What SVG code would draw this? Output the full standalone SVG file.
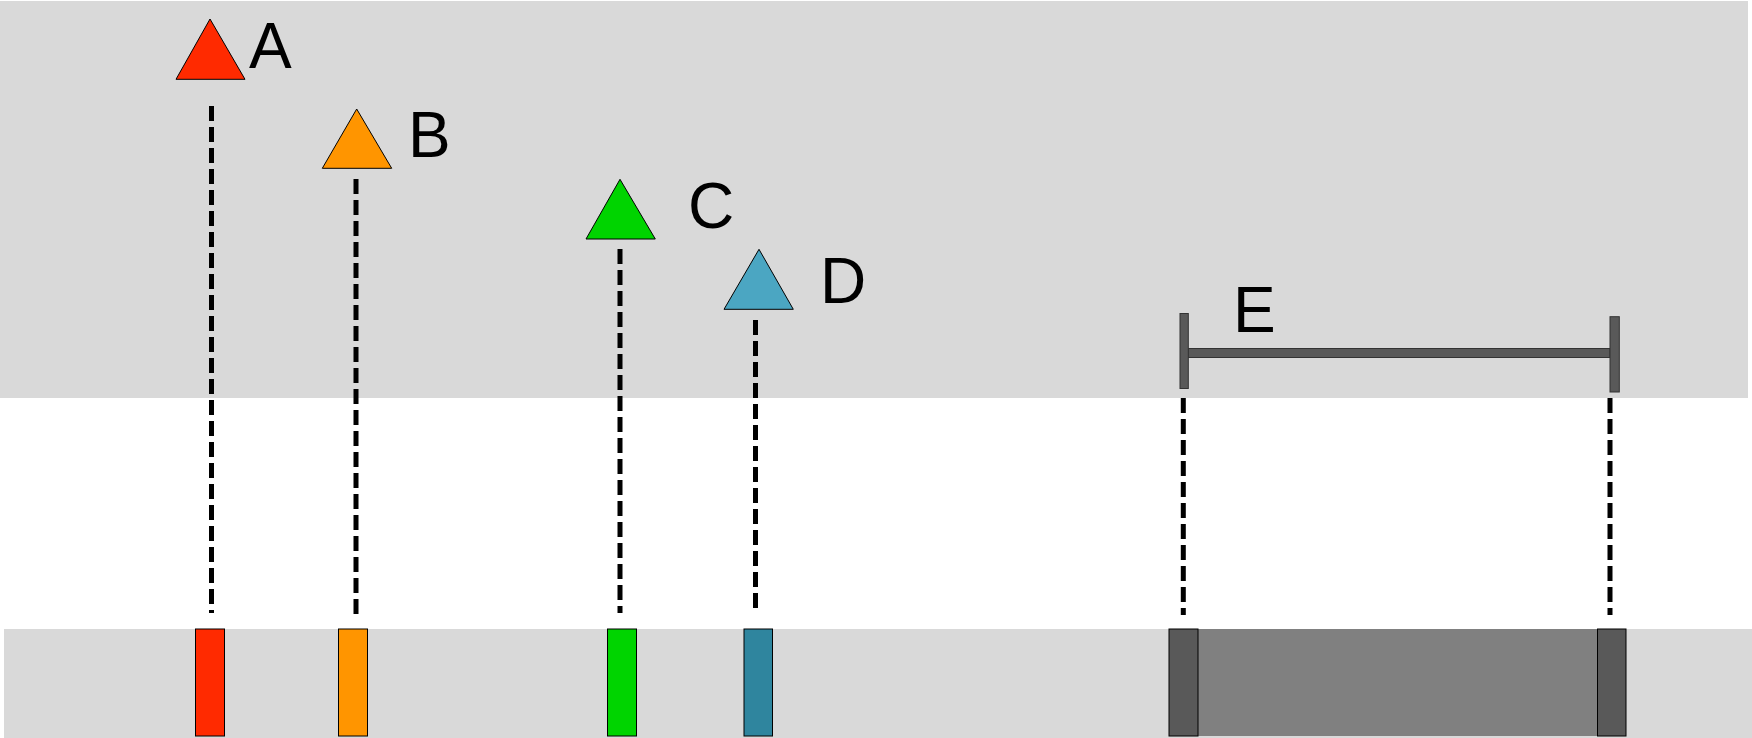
<svg xmlns="http://www.w3.org/2000/svg" width="1752" height="738" viewBox="0 0 1752 738">
  <style>
    .bg { fill: #d9d9d9; }
    .tri { stroke: #000; stroke-width: 1; stroke-linejoin: miter; }
    .mark { stroke: #000; stroke-width: 1; }
    .bar { fill: #595959; stroke: #333; stroke-width: 1; }
    .lbl { font-family: "Liberation Sans", Arial, sans-serif; font-size: 64px; fill: #000; }
    .dash { stroke: #000; stroke-width: 5; stroke-dasharray: 15 6; fill: none; }
  </style>

  <!-- upper panel and lower track -->
  <rect class="bg" x="0" y="1" width="1748" height="397"/>
  <rect class="bg" x="4" y="629" width="1748" height="109"/>

  <!-- connectors -->
  <g id="connectors">
    <line class="dash" x1="211.5" y1="106" x2="211.5" y2="613"/>
    <line class="dash" x1="356" y1="179" x2="356" y2="616"/>
    <line class="dash" x1="620" y1="249" x2="620" y2="613"/>
    <line class="dash" x1="755.5" y1="320" x2="755.5" y2="614"/>
    <line class="dash" x1="1183.3" y1="398" x2="1183.3" y2="615"/>
    <line class="dash" x1="1610" y1="398" x2="1610" y2="615"/>
  </g>

  <g id="node-a">
    <polygon class="tri" fill="#ff2a00" points="210,19 176,79.3 245,79.3"/>
    <text class="lbl" x="249" y="68">A</text>
    <rect class="mark" fill="#ff2a00" x="195.5" y="629" width="29" height="107"/>
  </g>

  <g id="node-b">
    <polygon class="tri" fill="#ff9500" points="356.7,109 322.3,168.3 391.7,168.3"/>
    <text class="lbl" x="408" y="157">B</text>
    <rect class="mark" fill="#ff9500" x="338.5" y="629" width="29" height="107"/>
  </g>

  <g id="node-c">
    <polygon class="tri" fill="#00d400" points="620,179.3 586,239 655.3,239"/>
    <text class="lbl" x="688" y="228">C</text>
    <rect class="mark" fill="#00d400" x="607.5" y="629" width="29" height="107"/>
  </g>

  <g id="node-d">
    <polygon class="tri" fill="#4ba6c2" points="759,249.3 724,309.3 793.3,309.3"/>
    <text class="lbl" x="820" y="303">D</text>
    <rect class="mark" fill="#2f859e" x="744" y="629" width="28.5" height="107"/>
  </g>

  <g id="node-e">
    <rect class="bar" x="1188" y="348.5" width="422" height="9"/>
    <rect class="bar" x="1180" y="313.5" width="8.3" height="75"/>
    <rect class="bar" x="1610" y="316.7" width="9.3" height="75.3"/>
    <text class="lbl" x="1233" y="332">E</text>
    <rect fill="#808080" x="1198" y="629" width="400" height="107"/>
    <rect class="mark" fill="#595959" x="1169" y="629" width="29" height="107"/>
    <rect class="mark" fill="#595959" x="1597.5" y="629" width="28.5" height="107"/>
  </g>
</svg>
